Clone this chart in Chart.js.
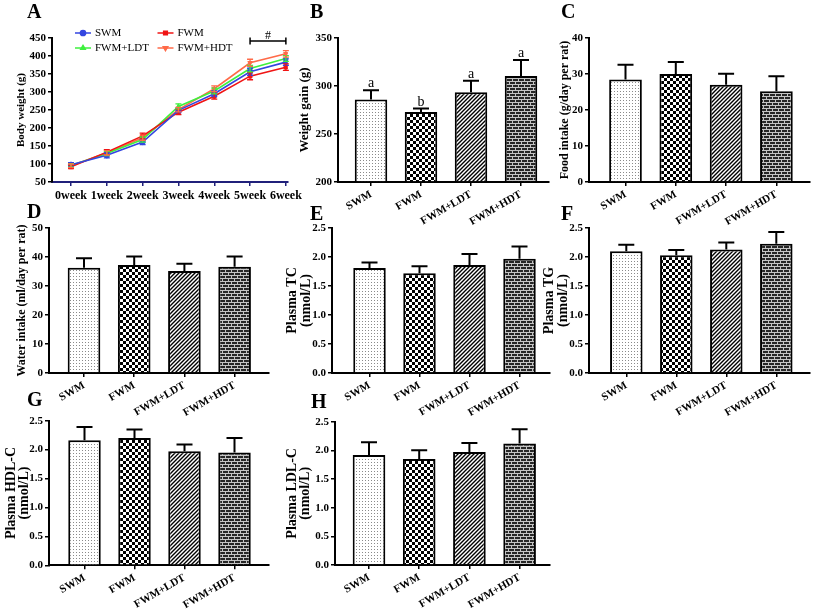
<!DOCTYPE html>
<html><head><meta charset="utf-8">
<script src="https://cdn.jsdelivr.net/npm/chart.js@4.4.0/dist/chart.umd.min.js"></script>
<style>
html,body{margin:0;padding:0;background:#fff;}
#wrap{position:relative;width:813px;height:612px;overflow:hidden;background:#fff;}
canvas{position:absolute;}
.lab{position:absolute;font-family:'Liberation Serif','Times New Roman',serif;font-weight:bold;font-size:20px;line-height:20px;color:#000;}
</style></head><body>
<div id="wrap">
<canvas id="cA"></canvas><canvas id="cD"></canvas><canvas id="cE"></canvas><canvas id="cF"></canvas>
<canvas id="cB"></canvas><canvas id="cC"></canvas>
<canvas id="cG"></canvas><canvas id="cH"></canvas>
<div class="lab" style="left:27px;top:1px">A</div>
<div class="lab" style="left:310px;top:1px">B</div>
<div class="lab" style="left:561px;top:1px">C</div>
<div class="lab" style="left:27px;top:201px">D</div>
<div class="lab" style="left:310px;top:203px">E</div>
<div class="lab" style="left:561px;top:203px">F</div>
<div class="lab" style="left:27px;top:389px">G</div>
<div class="lab" style="left:311px;top:391px">H</div>
</div>
<script>
// ---------------- DATA ----------------
const groups = ['SWM', 'FWM', 'FWM+LDT', 'FWM+HDT'];
const weeks = ['0week', '1week', '2week', '3week', '4week', '5week', '6week'];

// Panel A: body weight (g), mean and SD per week
const bwSWM = [98, 124, 161, 249, 295, 356, 383];
const bwFWM = [92, 133, 178, 244, 288, 344, 369];
const bwLDT = [96, 129, 168, 260, 303, 365, 393];
const bwHDT = [95, 131, 173, 251, 309, 381, 406];
const sdSWM = [6, 7, 7, 6, 8, 10, 9];
const sdFWM = [5, 7, 8, 7, 8, 10, 9];
const sdLDT = [5, 6, 7, 7, 8, 9, 8];
const sdHDT = [5, 6, 7, 6, 8, 10, 9];
const bwBracket = [5, 6];      // weeks spanned by '#'
const bwBracketLevel = [442];  // g
const bwBracketText = ['#'];

// Panel B: weight gain (g)
const gainMean = [286, 273, 293.5, 310.5];
const gainSD = [9.5, 3.5, 12, 16.5];
const gainLetters = ['a', 'b', 'a', 'a'];
// Panel C: food intake (g/day per rat)
const foodMean = [28.5, 30.0, 27.0, 25.2];
const foodSD = [4.1, 3.3, 3.1, 4.2];
// Panel D: water intake (ml/day per rat)
const waterMean = [36.3, 37.2, 35.2, 36.6];
const waterSD = [3.3, 3.0, 2.5, 3.6];
// Panel E: plasma TC (nmol/L)
const tcMean = [1.81, 1.72, 1.86, 1.97];
const tcSD = [0.095, 0.12, 0.19, 0.21];
// Panel F: plasma TG (nmol/L)
const tgMean = [2.10, 2.03, 2.13, 2.23];
const tgSD = [0.11, 0.09, 0.12, 0.20];
// Panel G: plasma HDL-C (nmol/L)
const hdlMean = [2.16, 2.20, 1.97, 1.95];
const hdlSD = [0.23, 0.15, 0.12, 0.25];
// Panel H: plasma LDL-C (nmol/L)
const ldlMean = [1.92, 1.85, 1.97, 2.12];
const ldlSD = [0.22, 0.15, 0.16, 0.25];

// ---------------- STYLE ----------------
const FONT = "'Liberation Serif','Times New Roman',serif";
Chart.defaults.font.family = FONT;
Chart.defaults.color = '#000';
Chart.defaults.animation = false;

function pat(w, h, draw) {
  const c = document.createElement('canvas'); c.width = w; c.height = h;
  const g = c.getContext('2d'); draw(g);
  return g.createPattern(c, 'repeat');
}
const pDots = pat(3, 3, g => { g.fillStyle = '#fff'; g.fillRect(0, 0, 3, 3); g.fillStyle = '#8a8a8a'; g.fillRect(1, 1, 1, 1); });
const pCheck = pat(6, 6, g => { g.fillStyle = '#fff'; g.fillRect(0, 0, 6, 6); g.fillStyle = '#000'; g.fillRect(0, 0, 3, 3); g.fillRect(3, 3, 3, 3); });
const pDiag = pat(4, 4, g => {
  g.fillStyle = '#fff'; g.fillRect(0, 0, 4, 4); g.strokeStyle = '#000'; g.lineWidth = 1.4;
  g.beginPath(); g.moveTo(-1, 5); g.lineTo(5, -1); g.moveTo(-1, 1); g.lineTo(1, -1); g.moveTo(3, 5); g.lineTo(5, 3); g.stroke();
});
const pBrick = pat(6, 6, g => {
  g.fillStyle = '#262626'; g.fillRect(0, 0, 6, 6); g.fillStyle = '#c4c4c4';
  g.fillRect(0, 0, 6, 1); g.fillRect(0, 3, 6, 1); g.fillRect(0, 0, 1, 3); g.fillRect(3, 3, 1, 3);
});
const barFills = [pDots, pCheck, pDiag, pBrick];

// error bars + letters plugin
const errorBars = {
  id: 'errorBars',
  afterDatasetsDraw(chart) {
    const ctx = chart.ctx, ys = chart.scales.y;
    chart.data.datasets.forEach((ds, di) => {
      if (!ds.errors) return;
      const meta = chart.getDatasetMeta(di);
      meta.data.forEach((el, i) => {
        const v = ds.data[i].y, e = ds.errors[i], x = el.x;
        const yHi = ys.getPixelForValue(v + e);
        const yLo = ys.getPixelForValue(ds.errorBoth ? v - e : v);
        const cap = ds.errorCap || 8;
        ctx.save();
        ctx.strokeStyle = ds.errorColor || '#000';
        ctx.lineWidth = ds.errorWidth || 2;
        ctx.beginPath();
        ctx.moveTo(x, yLo); ctx.lineTo(x, yHi);
        ctx.moveTo(x - cap, yHi); ctx.lineTo(x + cap, yHi);
        if (ds.errorBoth) { ctx.moveTo(x - cap, yLo); ctx.lineTo(x + cap, yLo); }
        ctx.stroke();
        if (ds.letters) {
          ctx.fillStyle = '#000'; ctx.font = '14px ' + FONT;
          ctx.textAlign = 'center'; ctx.textBaseline = 'alphabetic';
          ctx.fillText(ds.letters[i], x, yHi - 3);
        }
        ctx.restore();
      });
    });
  }
};

// layouts: positions in page pixels
const layouts = {
  B: { L: 290, T: 0, W: 262, H: 232, axisX: 338, topY: 38, bottomY: 182, rightX: 549, c0: 371, unit: 50, tC: [305], tSize: 13, tLH: 14 },
  C: { L: 550, T: 0, W: 263, H: 232, axisX: 589, topY: 38, bottomY: 182, rightX: 810, c0: 625.5, unit: 50.3, tC: [565], tSize: 12, tLH: 14 },
  D: { L: 0, T: 200, W: 278, H: 225, axisX: 49, topY: 228, bottomY: 373, rightX: 269, c0: 84, unit: 50.2, tC: [22], tSize: 12, tLH: 14 },
  E: { L: 280, T: 200, W: 272, H: 225, axisX: 332, topY: 228, bottomY: 373, rightX: 550, c0: 369.5, unit: 50, tC: [292, 306], tSize: 14, tLH: 14 },
  F: { L: 540, T: 200, W: 273, H: 225, axisX: 589, topY: 228, bottomY: 373, rightX: 810, c0: 626.3, unit: 50, tC: [549, 563], tSize: 14, tLH: 14 },
  G: { L: 0, T: 392, W: 278, H: 220, axisX: 49, topY: 420.7, bottomY: 565.3, rightX: 269, c0: 84.5, unit: 50, tC: [11, 24], tSize: 14, tLH: 13 },
  H: { L: 280, T: 392, W: 272, H: 220, axisX: 335, topY: 421.7, bottomY: 565, rightX: 550, c0: 369, unit: 50.2, tC: [292, 305], tSize: 14, tLH: 13 }
};

function place(id, lay) {
  const cv = document.getElementById(id);
  cv.width = lay.W; cv.height = lay.H;
  cv.style.left = lay.L + 'px'; cv.style.top = lay.T + 'px';
  return cv;
}

function barPanel(id, lay, means, sds, yMin, yMax, step, dec, title, letters) {
  const cv = place(id, lay);
  new Chart(cv, {
    type: 'bar',
    data: {
      datasets: [{
        data: means.map((v, i) => ({ x: i, y: v })),
        errors: sds, letters: letters,
        backgroundColor: barFills, borderColor: '#000', borderWidth: 2,
        base: yMin, categoryPercentage: 1, barPercentage: 0.65
      }]
    },
    options: {
      responsive: false, animation: false,
      layout: { padding: { left: 0, top: lay.topY - lay.T, right: lay.L + lay.W - lay.rightX, bottom: 0 } },
      plugins: { legend: { display: false }, tooltip: { enabled: false } },
      scales: {
        x: {
          type: 'linear', offset: false,
          min: (lay.axisX - lay.c0) / lay.unit, max: (lay.rightX - lay.c0) / lay.unit,
          afterBuildTicks: s => { s.ticks = groups.map((_, i) => ({ value: i })); },
          afterFit: s => { s.height = lay.T + lay.H - lay.bottomY; },
          grid: { offset: false, drawOnChartArea: false, drawTicks: true, tickLength: 4, color: '#000', lineWidth: 1.5 },
          border: { color: '#000', width: 2 },
          ticks: { autoSkip: false, minRotation: 30, maxRotation: 30, padding: 2,
            font: { size: 11, weight: 'bold' }, callback: v => groups[v] }
        },
        y: {
          min: yMin, max: yMax,
          afterBuildTicks: s => { const t = []; for (let v = yMin; v <= yMax + 1e-9; v += step) t.push({ value: +v.toFixed(4) }); s.ticks = t; },
          afterFit: s => { s.width = lay.axisX - lay.L; },
          grid: { drawOnChartArea: false, drawTicks: true, tickLength: 4, color: '#000', lineWidth: 1.5 },
          border: { color: '#000', width: 2 },
          ticks: { padding: 2, font: { size: 11, weight: 'bold' }, callback: v => (+v).toFixed(dec) },
          title: { display: true, text: title,
            font: { size: lay.tSize, weight: 'bold', lineHeight: lay.tLH + 'px' },
            padding: { top: lay.tC[0] - lay.L - lay.tLH / 2, bottom: 0 } }
        }
      }
    },
    plugins: [errorBars]
  });
}

// ---------------- PANEL A ----------------
(function () {
  const lay = { L: 0, T: 0, W: 305, H: 212, axisX: 52, topY: 38, bottomY: 182, rightX: 289, c0: 71.1, unit: 36.0, tC: 21, tSize: 11 };
  const cv = place('cA', lay);
  const series = [
    { label: 'SWM', d: bwSWM, e: sdSWM, c: '#3446e0', ps: 'circle', rot: 0 },
    { label: 'FWM', d: bwFWM, e: sdFWM, c: '#f01414', ps: 'rect', rot: 0 },
    { label: 'FWM+LDT', d: bwLDT, e: sdLDT, c: '#3ef03e', ps: 'triangle', rot: 0 },
    { label: 'FWM+HDT', d: bwHDT, e: sdHDT, c: '#ff6a48', ps: 'triangle', rot: 180 }
  ];
  const legendA = {
    id: 'legendA',
    afterDraw(chart) {
      const ca = chart.chartArea, ctx = chart.ctx;
      const pos = [[31, -5], [113.5, -5], [31, 10], [113.5, 10]];
      chart.data.datasets.forEach((ds, i) => {
        const cx = ca.left + pos[i][0], cy = ca.top + pos[i][1];
        ctx.save();
        ctx.strokeStyle = ds.borderColor; ctx.fillStyle = ds.borderColor; ctx.lineWidth = 1.5;
        ctx.beginPath(); ctx.moveTo(cx - 8, cy); ctx.lineTo(cx + 8, cy); ctx.stroke();
        Chart.helpers.drawPoint(ctx, { pointStyle: ds.pointStyle, radius: 2.6, rotation: ds.pointRotation, borderWidth: 1 }, cx, cy);
        ctx.fillStyle = '#000'; ctx.font = '11px ' + FONT; ctx.textAlign = 'left'; ctx.textBaseline = 'middle';
        ctx.fillText(ds.label, cx + 12, cy);
        ctx.restore();
      });
    }
  };
  const bracket = {
    id: 'bracket',
    afterDraw(chart) {
      const ctx = chart.ctx, xs = chart.scales.x, ys = chart.scales.y;
      const x1 = xs.getPixelForValue(bwBracket[0]), x2 = xs.getPixelForValue(bwBracket[1]);
      const y = ys.getPixelForValue(bwBracketLevel[0]);
      ctx.save(); ctx.strokeStyle = '#000'; ctx.lineWidth = 1.5;
      ctx.beginPath(); ctx.moveTo(x1, y); ctx.lineTo(x2, y);
      ctx.moveTo(x1, y - 3.5); ctx.lineTo(x1, y + 3.5); ctx.moveTo(x2, y - 3.5); ctx.lineTo(x2, y + 3.5); ctx.stroke();
      ctx.fillStyle = '#000'; ctx.font = '12px ' + FONT; ctx.textAlign = 'center'; ctx.textBaseline = 'alphabetic';
      ctx.fillText(bwBracketText[0], (x1 + x2) / 2, y - 1.5);
      ctx.restore();
    }
  };
  new Chart(cv, {
    type: 'line',
    data: {
      datasets: series.map(s => ({
        label: s.label, data: s.d.map((v, i) => ({ x: i, y: v })), errors: s.e, errorBoth: true,
        errorColor: s.c, errorWidth: 1.3, errorCap: 3,
        borderColor: s.c, backgroundColor: s.c, borderWidth: 1.6,
        pointStyle: s.ps, pointRotation: s.rot, pointRadius: 2.6, pointBorderWidth: 1, tension: 0
      }))
    },
    options: {
      responsive: false, animation: false,
      layout: { padding: { left: 0, top: lay.topY - lay.T, right: lay.L + lay.W - lay.rightX, bottom: 0 } },
      plugins: { legend: { display: false }, tooltip: { enabled: false } },
      scales: {
        x: {
          type: 'linear', offset: false,
          min: (lay.axisX - lay.c0) / lay.unit, max: (lay.rightX - lay.c0) / lay.unit,
          afterBuildTicks: s => { s.ticks = weeks.map((_, i) => ({ value: i })); },
          afterFit: s => { s.height = lay.T + lay.H - lay.bottomY; },
          grid: { drawOnChartArea: false, drawTicks: true, tickLength: 4, color: '#20207a', lineWidth: 1.5 },
          border: { color: '#20207a', width: 2 },
          ticks: { autoSkip: false, maxRotation: 0, minRotation: 0, padding: 3,
            font: { size: 12, weight: 'bold' }, callback: v => weeks[v] }
        },
        y: {
          min: 50, max: 450,
          ticks: { stepSize: 50, padding: 2, font: { size: 11, weight: 'bold' } },
          afterFit: s => { s.width = lay.axisX - lay.L; },
          grid: { drawOnChartArea: false, drawTicks: true, tickLength: 4, color: '#000', lineWidth: 1.5 },
          border: { color: '#000', width: 2 },
          title: { display: true, text: 'Body weight (g)', font: { size: lay.tSize, weight: 'bold', lineHeight: '13px' },
            padding: { top: lay.tC - lay.L - 6.5, bottom: 0 } }
        }
      }
    },
    plugins: [errorBars, legendA, bracket]
  });
})();

// ---------------- BAR PANELS ----------------
barPanel('cB', layouts.B, gainMean, gainSD, 200, 350, 50, 0, 'Weight gain (g)', gainLetters);
barPanel('cC', layouts.C, foodMean, foodSD, 0, 40, 10, 0, 'Food intake (g/day per rat)');
barPanel('cD', layouts.D, waterMean, waterSD, 0, 50, 10, 0, 'Water intake (ml/day per rat)');
barPanel('cE', layouts.E, tcMean, tcSD, 0, 2.5, 0.5, 1, ['Plasma TC', '(nmol/L)']);
barPanel('cF', layouts.F, tgMean, tgSD, 0, 2.5, 0.5, 1, ['Plasma TG', '(nmol/L)']);
barPanel('cG', layouts.G, hdlMean, hdlSD, 0, 2.5, 0.5, 1, ['Plasma HDL-C', '(nmol/L)']);
barPanel('cH', layouts.H, ldlMean, ldlSD, 0, 2.5, 0.5, 1, ['Plasma LDL-C', '(nmol/L)']);
</script>
</body></html>
